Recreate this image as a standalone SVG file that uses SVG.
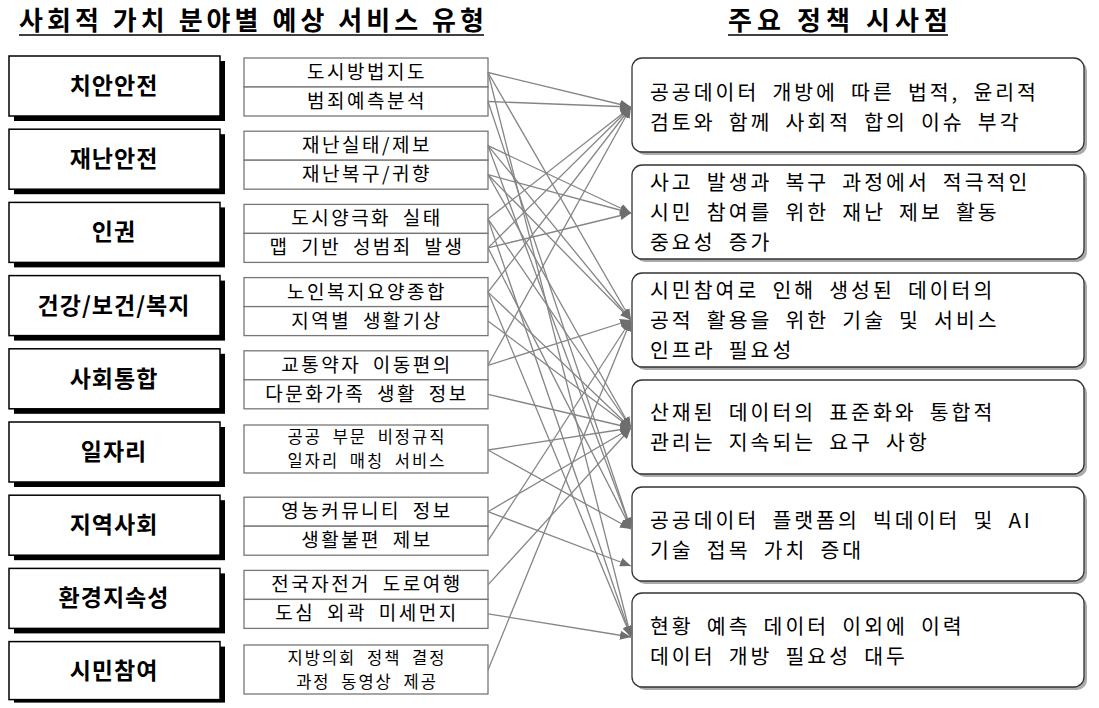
<svg xmlns="http://www.w3.org/2000/svg" width="1099" height="708" viewBox="0 0 1099 708">
<style>
text{font-family:"Noto Sans CJK KR","Noto Sans",sans-serif;fill:#000}
.title{font-size:26px;font-weight:bold}
.cat{font-size:23px;font-weight:bold;text-anchor:middle;letter-spacing:1px}
.svc{font-size:19px;text-anchor:middle;letter-spacing:2.5px;word-spacing:5px}
.svc2{font-size:16.5px;text-anchor:middle;letter-spacing:2px;word-spacing:5px}
.imp{font-size:20.5px;letter-spacing:3px;word-spacing:5.5px}
.catbox{fill:#fff;stroke:#000;stroke-width:1.5}
.catsh{fill:#000}
.sbox{fill:#fff;stroke:#777;stroke-width:1.3}
.ibox{fill:#fff;stroke:#333;stroke-width:1.3}
.ish{fill:#aaa}
.conn line{stroke:#858585;stroke-width:1.3;marker-end:url(#ah)}
</style>
<defs>
<marker id="ah" markerUnits="userSpaceOnUse" markerWidth="11" markerHeight="9" refX="11" refY="4.5" orient="auto">
<path d="M0,0 L11,4.5 L0,9 z" fill="#6e6e6e"/>
</marker>
</defs>
<rect width="1099" height="708" fill="#fff"/>
<g id="titles">
<text class="title" x="19" y="30" textLength="465" lengthAdjust="spacing">사회적 가치 분야별 예상 서비스 유형</text>
<line x1="19" y1="35" x2="484" y2="35" stroke="#000" stroke-width="1.6"/>
<text class="title" x="728" y="30" textLength="220" lengthAdjust="spacing">주요 정책 시사점</text>
<line x1="728" y1="35" x2="948" y2="35" stroke="#000" stroke-width="1.6"/>
</g>
<g id="categories">
<g id="cat-0"><rect class="catsh" x="14" y="61" width="211" height="60"/><rect class="catbox" x="9" y="56" width="211" height="60"/><text class="cat" x="114" y="94">치안안전</text></g>
<g id="cat-1"><rect class="catsh" x="14" y="134.2" width="211" height="60"/><rect class="catbox" x="9" y="129.2" width="211" height="60"/><text class="cat" x="114" y="167.2">재난안전</text></g>
<g id="cat-2"><rect class="catsh" x="14" y="207.4" width="211" height="60"/><rect class="catbox" x="9" y="202.4" width="211" height="60"/><text class="cat" x="114" y="240.4">인권</text></g>
<g id="cat-3"><rect class="catsh" x="14" y="280.6" width="211" height="60"/><rect class="catbox" x="9" y="275.6" width="211" height="60"/><text class="cat" x="114" y="313.6">건강/보건/복지</text></g>
<g id="cat-4"><rect class="catsh" x="14" y="353.8" width="211" height="60"/><rect class="catbox" x="9" y="348.8" width="211" height="60"/><text class="cat" x="114" y="386.8">사회통합</text></g>
<g id="cat-5"><rect class="catsh" x="14" y="427" width="211" height="60"/><rect class="catbox" x="9" y="422" width="211" height="60"/><text class="cat" x="114" y="460">일자리</text></g>
<g id="cat-6"><rect class="catsh" x="14" y="500.2" width="211" height="60"/><rect class="catbox" x="9" y="495.2" width="211" height="60"/><text class="cat" x="114" y="533.2">지역사회</text></g>
<g id="cat-7"><rect class="catsh" x="14" y="573.4" width="211" height="60"/><rect class="catbox" x="9" y="568.4" width="211" height="60"/><text class="cat" x="114" y="606.4">환경지속성</text></g>
<g id="cat-8"><rect class="catsh" x="14" y="646.6" width="211" height="56"/><rect class="catbox" x="9" y="641.6" width="211" height="58"/><text class="cat" x="114" y="679">시민참여</text></g>
</g>
<g id="services">
<g id="svc-1"><rect class="sbox" x="244" y="58" width="244" height="29"/><text class="svc" x="367" y="79">도시방법지도</text></g>
<g id="svc-2"><rect class="sbox" x="244" y="87" width="244" height="29"/><text class="svc" x="367" y="108">범죄예측분석</text></g>
<g id="svc-3"><rect class="sbox" x="244" y="131.2" width="244" height="29"/><text class="svc" x="367" y="152.2">재난실태/제보</text></g>
<g id="svc-4"><rect class="sbox" x="244" y="160.2" width="244" height="29"/><text class="svc" x="367" y="181.2">재난복구/귀향</text></g>
<g id="svc-5"><rect class="sbox" x="244" y="204.4" width="244" height="29"/><text class="svc" x="367" y="225.4">도시양극화 실태</text></g>
<g id="svc-6"><rect class="sbox" x="244" y="233.4" width="244" height="29"/><text class="svc" x="367" y="254.4">맵 기반 성범죄 발생</text></g>
<g id="svc-7"><rect class="sbox" x="244" y="277.6" width="244" height="29"/><text class="svc" x="367" y="298.6">노인복지요양종합</text></g>
<g id="svc-8"><rect class="sbox" x="244" y="306.6" width="244" height="29"/><text class="svc" x="367" y="327.6">지역별 생활기상</text></g>
<g id="svc-9"><rect class="sbox" x="244" y="350.8" width="244" height="29"/><text class="svc" x="367" y="371.8">교통약자 이동편의</text></g>
<g id="svc-10"><rect class="sbox" x="244" y="379.8" width="244" height="29"/><text class="svc" x="367" y="400.8">다문화가족 생활 정보</text></g>
<g id="svc-11"><rect class="sbox" x="244" y="425" width="244" height="48"/><text class="svc2" x="367" y="443">공공 부문 비정규직</text><text class="svc2" x="367" y="467">일자리 매칭 서비스</text></g>
<g id="svc-12"><rect class="sbox" x="244" y="497.2" width="244" height="29"/><text class="svc" x="367" y="518.2">영농커뮤니티 정보</text></g>
<g id="svc-13"><rect class="sbox" x="244" y="526.2" width="244" height="29"/><text class="svc" x="367" y="547.2">생활불편 제보</text></g>
<g id="svc-14"><rect class="sbox" x="244" y="570.4" width="244" height="29"/><text class="svc" x="367" y="591.4">전국자전거 도로여행</text></g>
<g id="svc-15"><rect class="sbox" x="244" y="599.4" width="244" height="29"/><text class="svc" x="367" y="620.4">도심 외곽 미세먼지</text></g>
<g id="svc-16"><rect class="sbox" x="244" y="645" width="244" height="49"/><text class="svc2" x="367" y="664">지방의회 정책 결정</text><text class="svc2" x="367" y="688">과정 동영상 제공</text></g>
</g>
<g id="implications">
<g id="imp-1"><rect class="ish" x="635" y="61" width="452" height="94" rx="10"/><rect class="ibox" x="632" y="58" width="452" height="94" rx="10"/><text class="imp" x="650" y="100">공공데이터 개방에 따른 법적, 윤리적</text><text class="imp" x="650" y="130">검토와 함께 사회적 합의 이슈 부각</text></g>
<g id="imp-2"><rect class="ish" x="635" y="168" width="452" height="94" rx="10"/><rect class="ibox" x="632" y="165" width="452" height="94" rx="10"/><text class="imp" x="650" y="190">사고 발생과 복구 과정에서 적극적인</text><text class="imp" x="650" y="220">시민 참여를 위한 재난 제보 활동</text><text class="imp" x="650" y="250">중요성 증가</text></g>
<g id="imp-3"><rect class="ish" x="635" y="276" width="452" height="94" rx="10"/><rect class="ibox" x="632" y="273" width="452" height="94" rx="10"/><text class="imp" x="650" y="298">시민참여로 인해 생성된 데이터의</text><text class="imp" x="650" y="328">공적 활용을 위한 기술 및 서비스</text><text class="imp" x="650" y="358">인프라 필요성</text></g>
<g id="imp-4"><rect class="ish" x="635" y="383" width="452" height="94" rx="10"/><rect class="ibox" x="632" y="380" width="452" height="94" rx="10"/><text class="imp" x="650" y="420">산재된 데이터의 표준화와 통합적</text><text class="imp" x="650" y="450">관리는 지속되는 요구 사항</text></g>
<g id="imp-5"><rect class="ish" x="635" y="490" width="452" height="94" rx="10"/><rect class="ibox" x="632" y="487" width="452" height="94" rx="10"/><text class="imp" x="650" y="528">공공데이터 플랫폼의 빅데이터 및 AI</text><text class="imp" x="650" y="558">기술 접목 가치 증대</text></g>
<g id="imp-6"><rect class="ish" x="635" y="596" width="452" height="94" rx="10"/><rect class="ibox" x="632" y="593" width="452" height="94" rx="10"/><text class="imp" x="650" y="634">현황 예측 데이터 이외에 이력</text><text class="imp" x="650" y="664">데이터 개방 필요성 대두</text></g>
</g>
<g id="connectors" class="conn">
<line x1="488" y1="72.5" x2="631" y2="107"/>
<line x1="488" y1="72.5" x2="631" y2="320"/>
<line x1="488" y1="72.5" x2="631" y2="637"/>
<line x1="488" y1="101.5" x2="631" y2="107"/>
<line x1="488" y1="101.5" x2="631" y2="529"/>
<line x1="488" y1="145.7" x2="631" y2="213"/>
<line x1="488" y1="145.7" x2="631" y2="320"/>
<line x1="488" y1="145.7" x2="631" y2="529"/>
<line x1="488" y1="174.7" x2="631" y2="213"/>
<line x1="488" y1="174.7" x2="631" y2="320"/>
<line x1="488" y1="174.7" x2="631" y2="428"/>
<line x1="488" y1="218.9" x2="631" y2="107"/>
<line x1="488" y1="218.9" x2="631" y2="428"/>
<line x1="488" y1="218.9" x2="631" y2="637"/>
<line x1="488" y1="247.9" x2="631" y2="107"/>
<line x1="488" y1="247.9" x2="631" y2="213"/>
<line x1="488" y1="247.9" x2="631" y2="529"/>
<line x1="488" y1="292.1" x2="631" y2="107"/>
<line x1="488" y1="292.1" x2="631" y2="428"/>
<line x1="488" y1="292.1" x2="631" y2="637"/>
<line x1="488" y1="321.1" x2="631" y2="428"/>
<line x1="488" y1="365.3" x2="631" y2="107"/>
<line x1="488" y1="365.3" x2="631" y2="320"/>
<line x1="488" y1="394.3" x2="631" y2="428"/>
<line x1="488" y1="450" x2="631" y2="428"/>
<line x1="488" y1="450" x2="631" y2="529"/>
<line x1="488" y1="511.7" x2="631" y2="428"/>
<line x1="488" y1="511.7" x2="631" y2="566"/>
<line x1="488" y1="540.7" x2="631" y2="320"/>
<line x1="488" y1="584.9" x2="631" y2="428"/>
<line x1="488" y1="613.9" x2="631" y2="637"/>
<line x1="488" y1="670" x2="631" y2="320"/>
</g>
</svg>
